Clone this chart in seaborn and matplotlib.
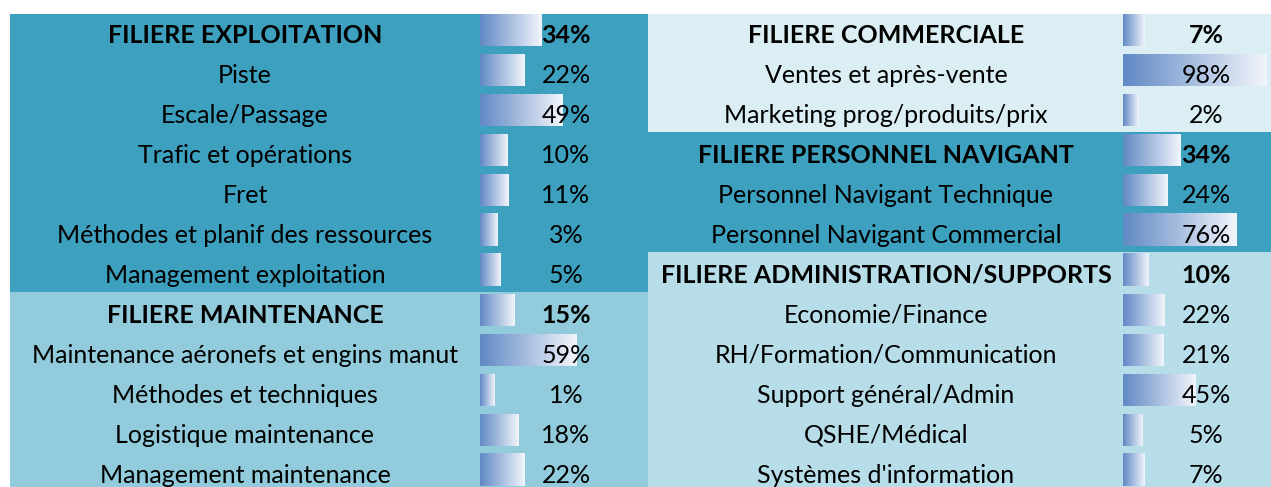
import numpy as np
import pandas as pd
import matplotlib
matplotlib.use('Agg')
import matplotlib.pyplot as plt
import matplotlib.transforms as mtransforms
from matplotlib.colors import LinearSegmentedColormap
import seaborn as sns

left_labels = ['FILIERE EXPLOITATION', 'Piste', 'Escale/Passage',
               'Trafic et opérations', 'Fret',
               'Méthodes et planif des ressources', 'Management exploitation',
               'FILIERE MAINTENANCE', 'Maintenance aéronefs et engins manut',
               'Méthodes et techniques', 'Logistique maintenance',
               'Management maintenance']
left_values = [34, 22, 49, 10, 11, 3, 5, 15, 59, 1, 18, 22]
left_heads = [0, 7]

right_labels = ['FILIERE COMMERCIALE', 'Ventes et après-vente',
                'Marketing prog/produits/prix', 'FILIERE PERSONNEL NAVIGANT',
                'Personnel Navigant Technique', 'Personnel Navigant Commercial',
                'FILIERE ADMINISTRATION/SUPPORTS', 'Economie/Finance',
                'RH/Formation/Communication', 'Support général/Admin',
                'QSHE/Médical', "Systèmes d'information"]
right_values = [7, 98, 2, 34, 24, 76, 10, 22, 21, 45, 5, 7]
right_heads = [0, 3, 6]

TEAL = '#3CA0BE'
AQUA_40 = '#92CCDC'
AQUA_60 = '#B7DDE8'
AQUA_80 = '#DAEEF3'

sns.set_style('white')
plt.rcParams['font.family'] = ['Lato', 'DejaVu Sans']

W, H = 1271, 487
TOP_PX = 14
ROW_PX = 40
MIN_BAR = 9.5  # excel data bars never shrink to zero
FS = 18

fig = plt.figure(figsize=(W / 100, H / 100), dpi=100)
bar_cmap = LinearSegmentedColormap.from_list('databar', ['#6189C5', '#F2F5FB'])
grad = np.linspace(0, 1, 256).reshape(1, -1)

panels = [
    dict(labels=left_labels, values=left_values, heads=left_heads,
         x0=10, x1=648, bar_px=480, scale=1.414, label_px=245, pct_px=566,
         bands=[(-0.4, 6.55, TEAL), (6.55, 11.6, AQUA_40)]),
    dict(labels=right_labels, values=right_values, heads=right_heads,
         x0=648, x1=1271, bar_px=1123, scale=1.333, label_px=886, pct_px=1206,
         bands=[(-0.4, 2.55, AQUA_80), (2.55, 5.55, TEAL), (5.55, 11.6, AQUA_60)]),
]

for p in panels:
    n = len(p['labels'])
    ax = fig.add_axes([p['x0'] / W, 1 - (TOP_PX + n * ROW_PX) / H,
                       (p['x1'] - p['x0']) / W, n * ROW_PX / H])
    df = pd.DataFrame({'row': np.arange(n),
                       'bar': MIN_BAR + np.array(p['values'], dtype=float)})
    sns.barplot(data=df, x='bar', y='row', orient='h', ax=ax, width=0.8,
                color='#6189C5', errorbar=None)

    xlim = (-(p['bar_px'] - p['x0']) / p['scale'], (p['x1'] - p['bar_px']) / p['scale'])
    ylim = (n - 0.4, -0.4)

    # gradient fill for each data bar
    for patch in list(ax.patches):
        x, y = patch.get_x(), patch.get_y()
        w, h = patch.get_width(), patch.get_height()
        ax.imshow(grad, cmap=bar_cmap, extent=[x, x + w, y + h, y],
                  aspect='auto', interpolation='bilinear', zorder=2)
        patch.set_visible(False)

    for lo, hi, col in p['bands']:
        ax.axhspan(lo, hi, color=col, zorder=0, lw=0)

    ax.set_xlim(*xlim)
    ax.set_ylim(*ylim)
    ax.axis('off')

    tr = mtransforms.blended_transform_factory(ax.transAxes, ax.transData)
    lx = (p['label_px'] - p['x0']) / (p['x1'] - p['x0'])
    px = (p['pct_px'] - p['x0']) / (p['x1'] - p['x0'])
    for i, (lab, val) in enumerate(zip(p['labels'], p['values'])):
        wt = 'bold' if i in p['heads'] else 'normal'
        ax.text(lx, i + 0.125, lab, transform=tr, ha='center', va='center',
                fontsize=FS, fontweight=wt, color='black', zorder=3)
        ax.text(px, i + 0.125, f'{val}%', transform=tr, ha='center', va='center',
                fontsize=FS, fontweight=wt, color='black', zorder=3)

fig.savefig('out.png', dpi=100, facecolor='white')
